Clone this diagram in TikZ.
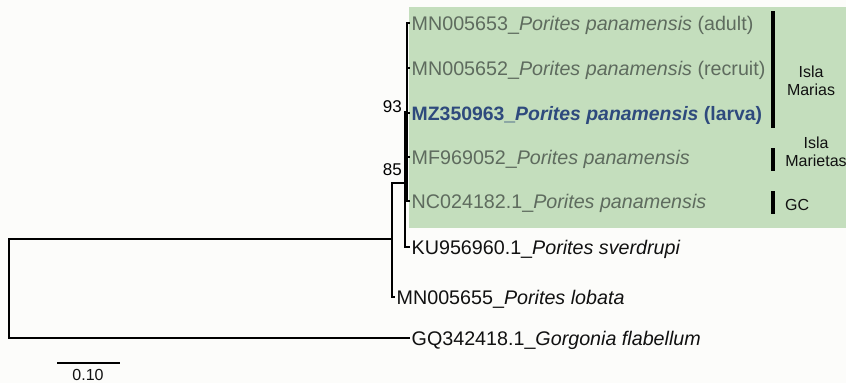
\documentclass[tikz,border=0pt]{standalone}
\usepackage{fontspec}
\setmainfont{Liberation Sans}
\definecolor{bgc}{HTML}{FCFCFA}
\definecolor{greenbox}{HTML}{C4DEBD}
\definecolor{graytxt}{HTML}{5E6B5E}
\definecolor{bluetxt}{HTML}{2E4A7D}
\definecolor{inktxt}{HTML}{111111}
\tikzset{
  branch/.style={line width=2pt, draw=black},
  tip/.style={anchor=west, inner sep=1.5pt, font=\fontsize{19.7}{24}\selectfont, text height=14.1pt, text depth=0pt},
  tipgray/.style={tip, text=graytxt},
  tipblack/.style={tip, text=inktxt},
  tipblue/.style={tip, text=bluetxt, font=\fontsize{19.4}{24}\selectfont\bfseries},
  support/.style={anchor=east, inner sep=0pt, font=\fontsize{17}{20}\selectfont},
  region/.style={align=center, inner sep=0pt, font=\fontsize{16}{18.5}\selectfont, text=inktxt},
  regionbar/.style={line width=4.5pt, draw=black},
}
\begin{document}
\begin{tikzpicture}[x=1pt,y=-1pt]
\useasboundingbox (0,0) rectangle (846,383);
\fill[bgc] (0,0) rectangle (846,383);
\fill[greenbox] (409,7) rectangle (846,228);

% internal nodes
\coordinate (p93) at (407,112);
\coordinate (p85) at (405,183);
\coordinate (pIn) at (392,239);
\coordinate (pRoot) at (9,288.5);

% tips
\node[tipgray] (tA) at (410,23) {MN005653\_\textit{Porites panamensis} (adult)};
\node[tipgray] (tB) at (410,68) {MN005652\_\textit{Porites panamensis} (recruit)};
\node[tipblue] (tC) at (410,113) {MZ350963\_\textit{Porites panamensis} (larva)};
\node[tipgray] (tD) at (410,157) {MF969052\_\textit{Porites panamensis}};
\node[tipgray] (tE) at (410,201) {NC024182.1\_\textit{Porites panamensis}};
\node[tipblack] (tKU) at (410,247) {KU956960.1\_\textit{Porites sverdrupi}};
\node[tipblack] (tLob) at (395,297) {MN005655\_\textit{Porites lobata}};
\node[tipblack] (tGQ) at (410,338) {GQ342418.1\_\textit{Gorgonia flabellum}};

% branches
\draw[branch] (pRoot) |- (pIn);
\draw[branch] (pRoot) |- (tGQ.west);
\draw[branch] (pIn) |- (p85);
\draw[branch] (pIn) |- (tLob.west);
\draw[branch] (p85) |- (p93);
\draw[branch] (p85) |- (tKU.west);
\foreach \t in {tA,tB,tC,tD,tE} \draw[branch] (p93) |- (\t.west);

% support values
\node[support] (s93) at (402,107) {93};
\node[support] (s85) at (402,170) {85};

% region bars and labels
\coordinate (bM1) at (773,11);  \coordinate (bM2) at (773,128);
\coordinate (bT1) at (773,148); \coordinate (bT2) at (773,171);
\coordinate (bG1) at (773,191); \coordinate (bG2) at (773,214);
\draw[regionbar] (bM1) -- (bM2);
\draw[regionbar] (bT1) -- (bT2);
\draw[regionbar] (bG1) -- (bG2);
\node[region] (rM) at (811,81) {Isla\\Marias};
\node[region] (rT) at (816,152) {Isla\\Marietas};
\node[region, anchor=west] (rG) at (785,205) {GC};

% scale bar
\coordinate (sb1) at (57,363);
\coordinate (sb2) at (120,363);
\draw[line width=2.2pt] (sb1) -- (sb2);
\node[inner sep=0pt, font=\fontsize{16}{18}\selectfont, text=inktxt] (sbl) at (88,374.5) {0.10};
\end{tikzpicture}
\end{document}
